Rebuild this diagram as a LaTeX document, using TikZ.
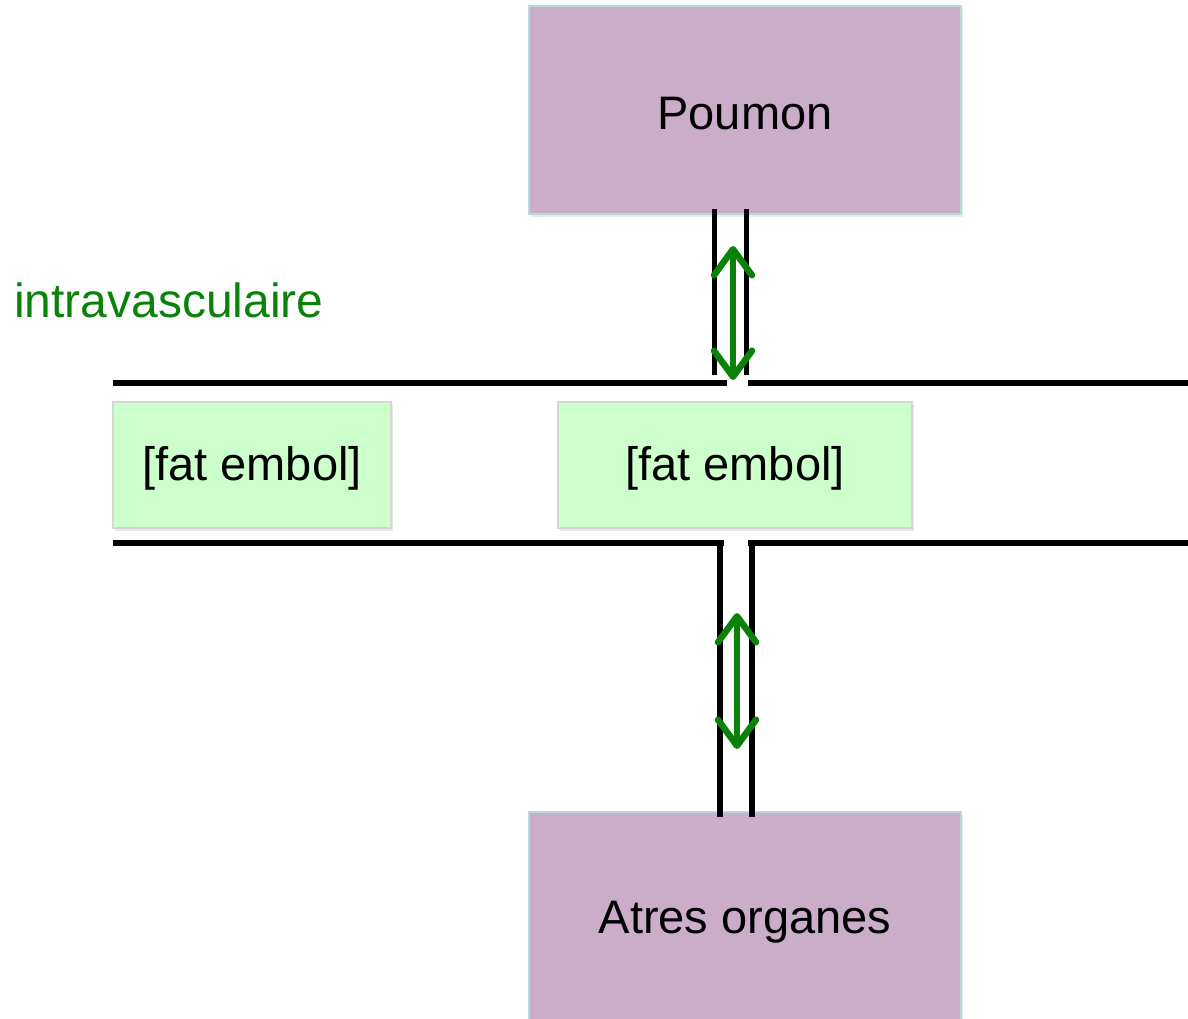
\documentclass[tikz,border=0pt]{standalone}
\usepackage{fontspec}
\setmainfont{Liberation Sans}
\usetikzlibrary{arrows.meta,shadows}
\definecolor{organfill}{HTML}{CBADC9}
\definecolor{organedge}{HTML}{B4DCDC}
\definecolor{fatfill}{HTML}{CCFFCC}
\definecolor{fatedge}{HTML}{D2D8D2}
\definecolor{flowgreen}{HTML}{0A820A}
\begin{document}
\begin{tikzpicture}[x=1pt,y=-1pt,
  organ/.style={draw=organedge, fill=organfill, line width=1.5pt, minimum width=432pt,
    drop shadow={opacity=0.18, shadow xshift=2pt, shadow yshift=-3pt},
    inner sep=0pt},
  fatbox/.style={draw=fatedge, fill=fatfill, line width=1.5pt, minimum height=126pt,
    drop shadow={opacity=0.18, shadow xshift=2pt, shadow yshift=-3pt},
    inner sep=0pt},
  lbl/.style={font=\fontsize{47}{56}\selectfont, inner sep=0pt},
  wall/.style={line width=5.5pt, black},
  flow/.style={line width=6.5pt, flowgreen, line cap=round,
    {Straight Barb[length=26pt,width=38pt,line cap=round,line join=round]}-{Straight Barb[length=26pt,width=38pt,line cap=round,line join=round]}}
]
\useasboundingbox (0,0) rectangle (1188,1018);
% organ boxes
\node[organ, minimum height=208pt] (poumon) at (745,110) {};
\node[lbl] (poumonlabel) at (745,114) {Poumon};
\node[organ, minimum height=220pt] (organes) at (745,922) {};
\node[lbl] (organeslabel) at (745,922) {Atres organes};
% fat emboli
\node[fatbox, minimum width=278pt] (fatL) at (252,465) {};
\node[lbl] (fatLlabel) at (252,468) {[fat embol]};
\node[fatbox, minimum width=354pt] (fatR) at (735,465) {};
\node[lbl] (fatRlabel) at (735,468) {[fat embol]};
% label
\node[anchor=west, text=flowgreen, font=\fontsize{48}{56}\selectfont, inner sep=0pt] (intra) at (14,300) {intravasculaire};
% vessel walls
\coordinate (wTL1) at (113,383); \coordinate (wTL2) at (727,383);
\coordinate (wTR1) at (748,383); \coordinate (wTR2) at (1188,383);
\coordinate (wBL1) at (113,543); \coordinate (wBL2) at (724,543);
\coordinate (wBR1) at (748,543); \coordinate (wBR2) at (1188,543);
\draw[wall] (wTL1) -- (wTL2);
\draw[wall] (wTR1) -- (wTR2);
\draw[wall] (wBL1) -- (wBL2);
\draw[wall] (wBR1) -- (wBR2);
% upper channel
\coordinate (cu1a) at (714.5,209); \coordinate (cu1b) at (714.5,375);
\coordinate (cu2a) at (746.5,209); \coordinate (cu2b) at (746.5,375);
\draw[wall] (cu1a) -- (cu1b);
\draw[wall] (cu2a) -- (cu2b);
% lower channel
\coordinate (cl1a) at (720,541); \coordinate (cl1b) at (720,817);
\coordinate (cl2a) at (752,541); \coordinate (cl2b) at (752,817);
\draw[wall] (cl1a) -- (cl1b);
\draw[wall] (cl2a) -- (cl2b);
% exchange arrows
\coordinate (au1) at (733,246); \coordinate (au2) at (733,380);
\coordinate (al1) at (737,613); \coordinate (al2) at (737,749);
\draw[flow] (au1) -- (au2);
\draw[flow] (al1) -- (al2);
\end{tikzpicture}
\end{document}
